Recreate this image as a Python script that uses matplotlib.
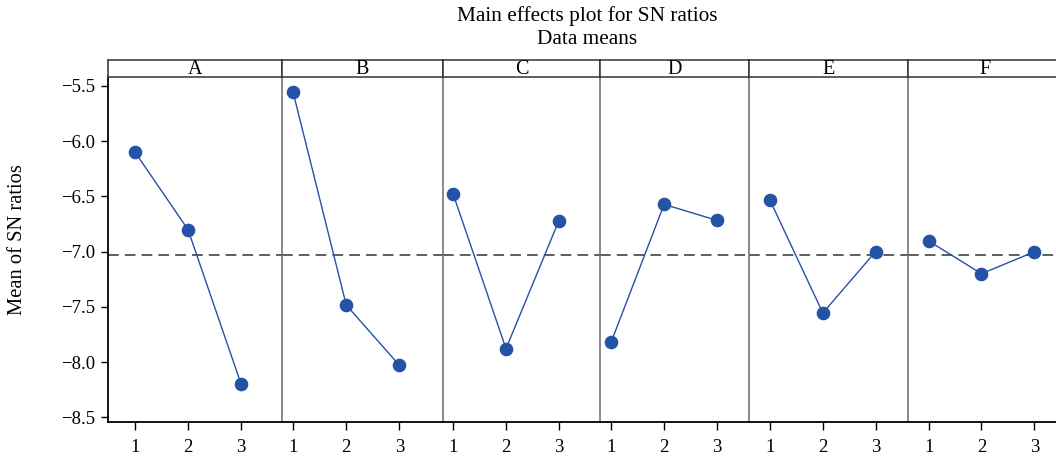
import numpy as np
import matplotlib
matplotlib.use('Agg')
import matplotlib.pyplot as plt

plt.rcParams['font.family'] = ['Liberation Serif', 'DejaVu Serif']

# factor names and levels
factors = ['A', 'B', 'C', 'D', 'E', 'F']
levels = [1, 2, 3]

# mean SN ratio per factor level
sn_A = [-6.10, -6.80, -8.195]
sn_B = [-5.557, -7.484, -8.03]
sn_C = [-6.481, -7.879, -6.723]
sn_D = [-7.816, -6.572, -6.717]
sn_E = [-6.535, -7.556, -6.999]
sn_F = [-6.904, -7.200, -7.002]
sn_all = [sn_A, sn_B, sn_C, sn_D, sn_E, sn_F]

W, H = 1056, 459
# panel edges in pixels (the right one runs off the picture)
edges = [107.7, 282.3, 442.7, 600.3, 749.3, 907.7, 1062]
xlims = [(0.483, 3.782), (0.797, 3.814), (0.80, 3.788),
         (0.792, 3.612), (0.608, 3.606), (0.602, 3.525)]
plot_top, plot_bot = 76.5, 422
strip_top = 59.7


def px_box(x0, x1, y0, y1):
    return [x0 / W, 1 - y1 / H, (x1 - x0) / W, (y1 - y0) / H]


fig = plt.figure(figsize=(W / 100, H / 100), dpi=100)
grand_mean = np.mean(sn_all)

for i, name in enumerate(factors):
    ax = fig.add_axes(px_box(edges[i], edges[i + 1], plot_top, plot_bot))
    ax.plot(levels, sn_all[i], color='#2452a4', marker='o', markersize=8.8,
            linewidth=1.0, zorder=3)
    ax.axhline(grand_mean, color='#333333', linewidth=1.1, linestyle=(0, (7, 4)), zorder=2)
    ax.set_xlim(*xlims[i])
    ax.set_ylim(-8.543, -5.414)
    ax.set_xticks(levels)
    ax.set_xticklabels([str(l) for l in levels])
    ax.spines['top'].set_visible(False)
    ax.spines['right'].set_visible(False)
    ax.spines['bottom'].set_color('black')
    ax.spines['bottom'].set_linewidth(1.3)
    ax.tick_params(axis='x', length=6, width=1, pad=6, labelsize=13.5)
    if i == 0:
        ax.spines['left'].set_color('black')
        ax.spines['left'].set_linewidth(1.3)
        ax.set_yticks([-5.5, -6.0, -6.5, -7.0, -7.5, -8.0, -8.5])
        ax.tick_params(axis='y', length=5, width=1, pad=4, labelsize=13.5)
    else:
        ax.spines['left'].set_color('#6a6a6a')
        ax.spines['left'].set_linewidth(1.1)
        ax.tick_params(axis='y', left=False, labelleft=False)

    # strip with factor name
    sx = fig.add_axes(px_box(edges[i], edges[i + 1], strip_top, plot_top))
    sx.set_xticks([])
    sx.set_yticks([])
    for s in sx.spines.values():
        s.set_color('#333333')
        s.set_linewidth(1.1)
    sx.text(0.5, 0.40, name, transform=sx.transAxes, ha='center', va='center', fontsize=14.5)

fig.text(587 / W, 1 - 16.5 / H, 'Main effects plot for SN ratios', ha='center', va='center', fontsize=15.3)
fig.text(587 / W, 1 - 39 / H, 'Data means', ha='center', va='center', fontsize=15.3)
fig.text(18 / W, 1 - 240 / H, 'Mean of SN ratios', rotation=90, ha='center', va='center', fontsize=14.8)

fig.savefig('out.png', dpi=100)
